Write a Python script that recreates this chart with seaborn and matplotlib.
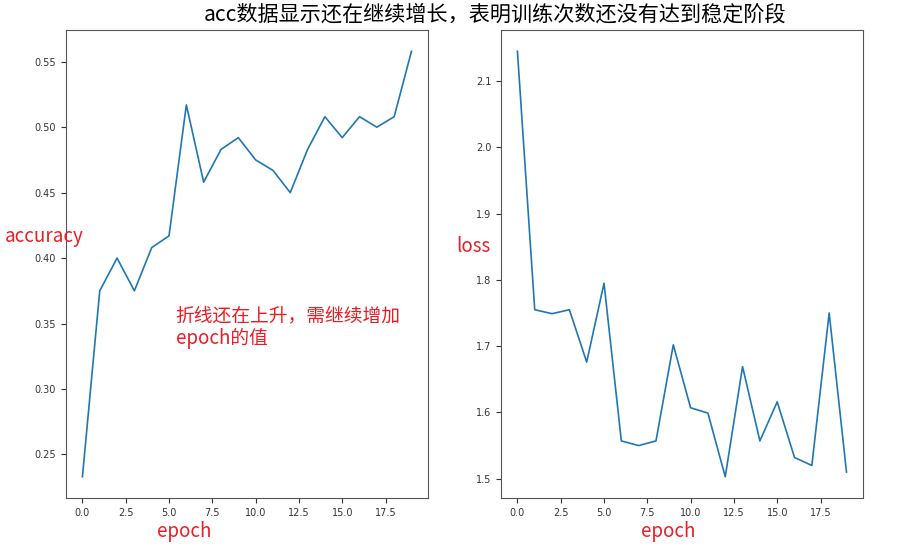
import numpy as np
import pandas as pd
import seaborn as sns
import matplotlib
matplotlib.use('Agg')
import matplotlib.pyplot as plt

#ticks stay in the default font, the overlaid notes use a CJK font
plt.rcParams['font.family'] = ['DejaVu Sans']
cjk = ['Noto Sans CJK SC', 'DejaVu Sans']

#training history
epochs = list(range(20))
accuracy = [0.233, 0.375, 0.400, 0.375, 0.408, 0.417, 0.517, 0.458, 0.483, 0.492,
            0.475, 0.467, 0.450, 0.483, 0.508, 0.492, 0.508, 0.500, 0.508, 0.558]
loss = [2.145, 1.755, 1.749, 1.755, 1.676, 1.795, 1.557, 1.550, 1.557, 1.702,
        1.607, 1.599, 1.503, 1.669, 1.557, 1.616, 1.532, 1.520, 1.750, 1.510]

title = 'acc数据显示还在继续增长，表明训练次数还没有达到稳定阶段'
note = '折线还在上升，需继续增加\nepoch的值'
red = '#ed1c24'

df = pd.DataFrame({'epoch': epochs, 'accuracy': accuracy, 'loss': loss})

fig = plt.figure(figsize=(9.15, 5.51), dpi=100)
ax1 = fig.add_axes([0.0721, 0.0962, 0.3956, 0.8494])
ax2 = fig.add_axes([0.5475, 0.0962, 0.3956, 0.8494])

sns.lineplot(data=df, x='epoch', y='accuracy', ax=ax1, color='#1f77b4', linewidth=1.2)
sns.lineplot(data=df, x='epoch', y='loss', ax=ax2, color='#1f77b4', linewidth=1.2)

for ax in (ax1, ax2):
    ax.set_xlabel('')
    ax.set_ylabel('')
    ax.tick_params(labelsize=7, colors='#333333')
    for s in ax.spines.values():
        s.set_color('#555555')

#labels added on top of the figure
fig.text(0.541, 0.973, title, ha='center', va='center', fontsize=15.2, family=cjk)
fig.text(0.005, 0.57, 'accuracy', ha='left', va='center', fontsize=13.5, color=red, family=cjk)
fig.text(0.499, 0.552, 'loss', ha='left', va='center', fontsize=13.5, color=red, family=cjk)
fig.text(0.201, 0.036, 'epoch', ha='center', va='center', fontsize=13.5, color=red, family=cjk)
fig.text(0.730, 0.036, 'epoch', ha='center', va='center', fontsize=13.5, color=red, family=cjk)
fig.text(0.192, 0.407, note, ha='left', va='center', fontsize=13.5, color=red,
         linespacing=1.1, family=cjk)

plt.savefig('out.png', dpi=100)
